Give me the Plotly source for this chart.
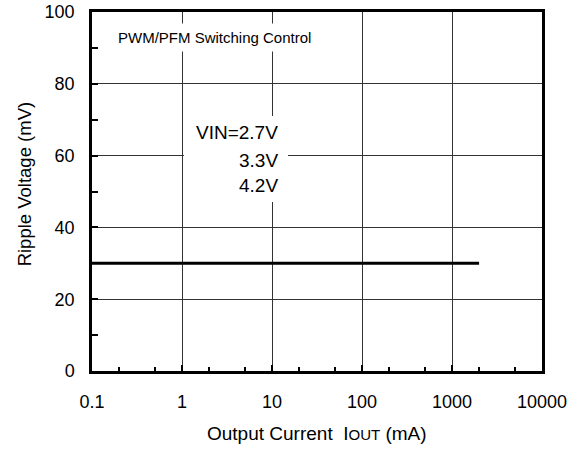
import plotly.graph_objects as go

# Ripple voltage vs output current (PWM/PFM switching control)
iout_ma = [0.1, 2000]
ripple_mv = [30, 30]

x_tickvals = [0.1, 1, 10, 100, 1000, 10000]
x_ticktext = ["0.1", "1", "10", "100", "1000", "10000"]
y_tickvals = [0, 20, 40, 60, 80, 100]

vin_labels = ["VIN=2.7V", "3.3V", "4.2V"]

font = "Liberation Sans, Arial, sans-serif"

fig = go.Figure()
fig.add_trace(go.Scatter(
    x=iout_ma, y=ripple_mv, mode="lines",
    line=dict(color="black", width=3),
    showlegend=False, hoverinfo="skip",
))

fig.update_xaxes(
    type="log", range=[-1, 4], automargin=False,
    tickvals=x_tickvals, ticktext=x_ticktext,
    showgrid=True, gridcolor="#333333", gridwidth=1,
    showline=True, linecolor="black", linewidth=2.5, mirror=True,
    ticks="inside", ticklen=6, tickwidth=2, tickcolor="black",
    minor=dict(ticks="inside", ticklen=4, tickwidth=2, tickcolor="black", showgrid=False),
    ticklabelstandoff=13,
    tickfont=dict(size=18, color="black"),
    zeroline=False,
)
fig.update_yaxes(
    range=[0, 100], tickvals=y_tickvals, automargin=False,
    showgrid=True, gridcolor="#333333", gridwidth=1,
    showline=True, linecolor="black", linewidth=2.5, mirror=True,
    ticks="inside", ticklen=6, tickwidth=2, tickcolor="black",
    minor=dict(dtick=10, ticks="inside", ticklen=6, tickwidth=2, tickcolor="black", showgrid=False),
    ticklabelstandoff=11,
    tickfont=dict(size=18, color="black"),
    zeroline=False,
)

fig.add_annotation(
    text="PWM/PFM Switching Control", xref="paper", yref="paper",
    x=0.273, y=0.93, xanchor="center", yanchor="middle", showarrow=False,
    font=dict(size=15, color="black"), bgcolor="white", borderpad=5,
)

# white patch behind the supply voltage labels
fig.add_shape(type="rect", xref="paper", yref="paper",
              x0=0.2044, x1=0.4356, y0=0.4708, y1=0.7103,
              fillcolor="white", line_width=0, layer="above")
for label, ypos in zip(vin_labels, [0.663, 0.587, 0.518]):
    fig.add_annotation(
        text=label, xref="paper", yref="paper",
        x=0.4178, y=ypos, xanchor="right", yanchor="middle", showarrow=False,
        font=dict(size=19, color="black"),
    )

fig.add_annotation(
    text="Output Current&nbsp;&nbsp;I<span style='font-size:15px'>OUT</span> (mA)",
    xref="paper", yref="paper", x=0.5, y=-0.173,
    xanchor="center", yanchor="middle", showarrow=False,
    font=dict(size=19, color="black"),
)
fig.add_annotation(
    text="Ripple Voltage (mV)", textangle=-90,
    xref="paper", yref="paper", x=-0.151, y=0.52,
    xanchor="center", yanchor="middle", showarrow=False,
    font=dict(size=18.5, color="black"),
)

fig.update_layout(
    width=581, height=450,
    margin=dict(l=92, r=39, t=12, b=79),
    plot_bgcolor="white", paper_bgcolor="white",
    font=dict(family=font, color="black"),
)

# drop the default page margin so the figure sits at the window corner
fig.write_html("out.html", config={"displayModeBar": False},
               post_script="document.body.style.margin='0px';")
